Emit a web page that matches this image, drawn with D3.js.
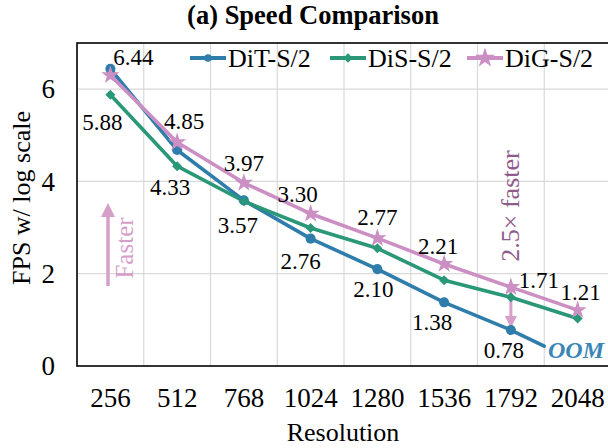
<!DOCTYPE html>
<html><head><meta charset="utf-8">
<script src="https://cdn.jsdelivr.net/npm/d3@7"></script>
<style>body{margin:0;background:#fff}</style>
</head><body>
<svg id="c" width="608" height="448" font-family="Liberation Serif"></svg>
<script>
const categories = ["256","512","768","1024","1280","1536","1792","2048"];
const seriesNames = ["DiT-S/2","DiS-S/2","DiG-S/2"];
const ditValues = [6.44, 4.68, 3.59, 2.76, 2.10, 1.38, 0.78];
const disValues = [5.88, 4.33, 3.57, 2.99, 2.55, 1.86, 1.49, 1.03];
const digValues = [6.30, 4.85, 3.97, 3.30, 2.77, 2.21, 1.71, 1.21];
const ditOomValue = 0.43;
const yTicks = [0, 2, 4, 6];
// data labels: series index, point index
const labelSeries = [0,1,2,1,2,1,2,0,2,0,2,0,2,0,2];
const labelIndex  = [0,0,1,1,2,2,3,3,4,4,5,5,6,6,7];
// styling offsets for labels
const labelDx = [23,-8,7,-7,0,-6,-13,-10,0,-4,-6,-12,28,-7,3];
const labelDy = [-12,27,-21,21,-20,24,-20,22,-21,20,-18,20,-7,20,-18];

const FONT = "Liberation Serif";
const colors = ["#2f7dab","#2a9878","#cb8fc3"];
const allValues = [ditValues, disValues, digValues];

const svg = d3.select("#c");
const M = {l:77, r:611, t:43, b:366};
const x = d3.scaleBand().domain(categories).range([M.l, M.r]).padding(0);
const xc = c => x(c) + x.bandwidth()/2;
const y = d3.scaleLinear().domain([0,7]).range([M.b, M.t]);

// grid
const g = svg.append("g");
g.selectAll(".hg").data(yTicks.filter(d=>d>0)).join("line")
  .attr("x1",M.l).attr("x2",M.r).attr("y1",d=>y(d)).attr("y2",d=>y(d))
  .attr("stroke","#d9d9d9").attr("stroke-width",1.2);
g.selectAll(".vg").data(categories.slice(1)).join("line")
  .attr("x1",d=>x(d)).attr("x2",d=>x(d)).attr("y1",M.t).attr("y2",M.b)
  .attr("stroke","#d9d9d9").attr("stroke-width",1.2);

// axes
const yAxis = d3.axisLeft(y).tickValues(yTicks).tickSize(0).tickPadding(22).tickFormat(d3.format("d"));
svg.append("g").attr("transform",`translate(${M.l},0)`).call(yAxis)
  .attr("font-family",FONT)
  .call(s=>s.select(".domain").remove())
  .selectAll("text").attr("font-size",27).attr("fill","#000");
const xAxis = d3.axisBottom(x).tickSize(0).tickPadding(22);
svg.append("g").attr("transform",`translate(0,${M.b})`).call(xAxis)
  .attr("font-family",FONT)
  .call(s=>s.select(".domain").remove())
  .selectAll("text").attr("font-size",27).attr("fill","#000");

// frame
svg.append("rect").attr("x",M.l).attr("y",M.t).attr("width",M.r-M.l).attr("height",M.b-M.t)
  .attr("fill","none").attr("stroke","#000").attr("stroke-width",1.6);

// annotations: Faster arrow
const annoColor = "#d59fca";
svg.append("defs").html(`
<marker id="ah" viewBox="0 0 10 10" refX="5" refY="5" markerWidth="4" markerHeight="4" orient="auto-start-reverse"><path d="M0,0 L10,5 L0,10 z" fill="${annoColor}"/></marker>`);
svg.append("line").attr("x1",108).attr("x2",108).attr("y1",286).attr("y2",210)
  .attr("stroke",annoColor).attr("stroke-width",3.5).attr("marker-end","url(#ah)");
svg.append("text").attr("transform","translate(133,248) rotate(-90)").attr("text-anchor","middle")
  .attr("font-family",FONT).attr("font-size",25).attr("fill",annoColor).text("Faster");

// lines
const line = d3.line().x((d,i)=>xc(categories[i])).y(d=>y(d));
allValues.forEach((vals,si)=>{
  svg.append("path").datum(vals).attr("d",line).attr("fill","none")
    .attr("stroke",colors[si]).attr("stroke-width",3.6).attr("stroke-linejoin","round");
});
// DiT OOM tail
svg.append("line")
  .attr("x1",xc("1792")).attr("y1",y(ditValues[6]))
  .attr("x2",x("2048")).attr("y2",y(ditOomValue))
  .attr("stroke",colors[0]).attr("stroke-width",3.6).attr("stroke-linecap","round");

// 2.5x arrow
svg.append("line").attr("x1",xc("1792")).attr("x2",xc("1792"))
  .attr("y1",y(digValues[6])).attr("y2",y(ditValues[6])-8)
  .attr("stroke",annoColor).attr("stroke-width",3).attr("marker-end","url(#ah)");

// markers
const symGen = [d3.symbol(d3.symbolCircle,80), d3.symbol(d3.symbolSquare,50), d3.symbol(d3.symbolStar,105)];
const symRot = [0,45,0];
allValues.forEach((vals,si)=>{
  svg.append("g").selectAll("path").data(vals).join("path")
    .attr("transform",(d,i)=>`translate(${xc(categories[i])},${y(d)}) rotate(${symRot[si]})`)
    .attr("d",symGen[si]()).attr("fill",colors[si]);
});

// data labels
labelSeries.forEach((s,k)=>{
  const i = labelIndex[k];
  const v = allValues[s][i];
  svg.append("text").attr("x",xc(categories[i])+labelDx[k]).attr("y",y(v)+labelDy[k]+8)
    .attr("text-anchor","middle").attr("font-family",FONT).attr("font-size",23).attr("fill","#000").text(v.toFixed(2));
});

// 2.5x faster text
svg.append("text").attr("transform",`translate(${xc("1792")+8},206) rotate(-90)`).attr("text-anchor","middle")
  .attr("font-family",FONT).attr("font-size",26).attr("fill","#8e5b8c").text("2.5× faster");

// OOM
svg.append("text").attr("x",548).attr("y",358).attr("font-family",FONT).attr("font-size",24).attr("font-weight","bold")
  .attr("font-style","italic").attr("fill","#3a86b6").text("OOM");

// legend
const legX = [190, 330, 467];
seriesNames.forEach((n,si)=>{
  const lg = svg.append("g").attr("transform",`translate(${legX[si]},58)`);
  lg.append("line").attr("x1",0).attr("x2",36).attr("y1",0).attr("y2",0).attr("stroke",colors[si]).attr("stroke-width",4);
  lg.append("path").attr("transform",`translate(18,0) rotate(${symRot[si]})`)
    .attr("d",si===2?d3.symbol(d3.symbolStar,125)():d3.symbol(si===0?d3.symbolCircle:d3.symbolSquare,45)()).attr("fill",colors[si]);
  lg.append("text").attr("x",38).attr("y",9).attr("font-family",FONT).attr("font-size",26).attr("fill","#000").text(n);
});

// titles
svg.append("text").attr("x",313).attr("y",24).attr("text-anchor","middle").attr("font-family",FONT).attr("font-size",26.5)
  .attr("font-weight","bold").text("(a) Speed Comparison");
svg.append("text").attr("x",343).attr("y",441).attr("text-anchor","middle").attr("font-family",FONT).attr("font-size",26).text("Resolution");
svg.append("text").attr("transform","translate(30,198) rotate(-90)").attr("text-anchor","middle")
  .attr("font-family",FONT).attr("font-size",26).text("FPS w/ log scale");
</script>
</body></html>
